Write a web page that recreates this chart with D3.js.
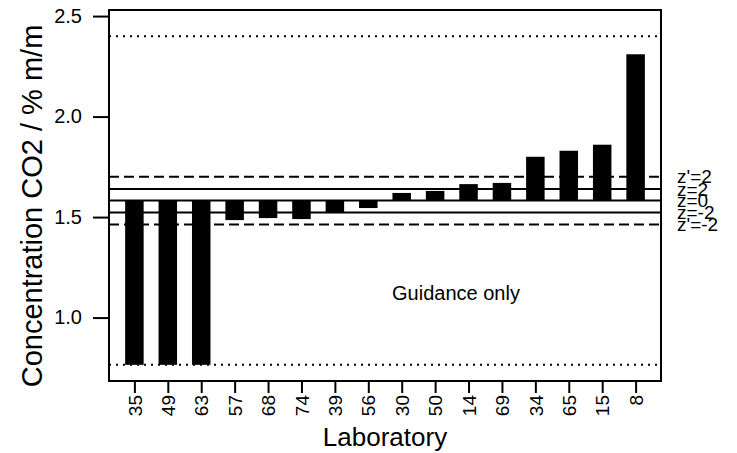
<!DOCTYPE html>
<html>
<head>
<meta charset="utf-8">
<script src="https://cdn.jsdelivr.net/npm/d3@7"></script>
<style>
  html, body { margin: 0; padding: 0; background: #fff; }
  svg { display: block; font-family: "Liberation Sans", Arial, sans-serif; }
</style>
</head>
<body>
<svg id="chart" width="737" height="453"></svg>
<script>
// Laboratory results, ordered by reported CO2 concentration
const labs = ["35", "49", "63", "57", "68", "74", "39", "56", "30", "50", "14", "69", "34", "65", "15", "8"];
const values = [0.765, 0.765, 0.765, 1.485, 1.495, 1.49, 1.52, 1.545, 1.62, 1.63, 1.664, 1.67, 1.80, 1.83, 1.86, 2.31];

// Assigned value and score limits
const assigned = 1.582;
const zLines = [
  { label: "z'=2",  value: 1.701, style: "dashed" },
  { label: "z=2",   value: 1.640, style: "solid" },
  { label: "z=0",   value: 1.582, style: "solid" },
  { label: "z=-2",  value: 1.523, style: "solid" },
  { label: "z'=-2", value: 1.463, style: "dashed" }
];
const guideLimits = [2.40, 0.765];
const yTicks = [1.0, 1.5, 2.0, 2.5];

const svg = d3.select("#chart");
const box = { left: 109, right: 661, top: 10, bottom: 381 };

const x = d3.scalePoint().domain(labs).range([box.left, box.right]).padding(0.76);
const y = d3.scaleLinear().domain([0.6845, 2.5302]).range([box.bottom, box.top]);
const barW = 18.5;

// Bars hang from the assigned value
svg.append("g").selectAll("rect")
  .data(labs.map((l, i) => ({ lab: l, v: values[i] })))
  .join("rect")
  .attr("x", d => x(d.lab) - barW / 2)
  .attr("width", barW)
  .attr("y", d => y(Math.max(d.v, assigned)))
  .attr("height", d => Math.abs(y(d.v) - y(assigned)))
  .attr("fill", "#000");

// Score lines
const dash = { dashed: "10,5", solid: null };
svg.append("g").selectAll("line")
  .data(zLines)
  .join("line")
  .attr("x1", box.left).attr("x2", box.right)
  .attr("y1", d => y(d.value)).attr("y2", d => y(d.value))
  .attr("stroke", "#000")
  .attr("stroke-width", 2)
  .attr("stroke-dasharray", d => dash[d.style]);

// Guidance limits
svg.append("g").selectAll("line")
  .data(guideLimits)
  .join("line")
  .attr("x1", box.left).attr("x2", box.right)
  .attr("y1", d => y(d)).attr("y2", d => y(d))
  .attr("stroke", "#000")
  .attr("stroke-width", 2)
  .attr("stroke-dasharray", "2,5");

// Plot frame
svg.append("rect")
  .attr("x", box.left).attr("y", box.top)
  .attr("width", box.right - box.left).attr("height", box.bottom - box.top)
  .attr("fill", "none").attr("stroke", "#000").attr("stroke-width", 2);

// Y axis
const yAxis = d3.axisLeft(y).tickValues(yTicks).tickFormat(d3.format(".1f")).tickSize(16).tickPadding(11);
const gy = svg.append("g").attr("transform", `translate(${box.left},0)`).call(yAxis);
gy.select(".domain").remove();
gy.selectAll(".tick line").attr("stroke", "#000").attr("stroke-width", 2);
gy.selectAll(".tick text").attr("font-size", 20).attr("fill", "#000")
  .attr("font-family", "Liberation Sans, Arial, sans-serif");

// X axis
const xAxis = d3.axisBottom(x).tickSize(12).tickPadding(3);
const gx = svg.append("g").attr("transform", `translate(0,${box.bottom})`).call(xAxis);
gx.select(".domain").remove();
gx.selectAll(".tick line").attr("stroke", "#000").attr("stroke-width", 2);
gx.selectAll(".tick text")
  .attr("font-size", 19).attr("fill", "#000")
  .attr("font-family", "Liberation Sans, Arial, sans-serif")
  .attr("transform", "rotate(-90)")
  .attr("text-anchor", "end")
  .attr("x", -14).attr("y", 0).attr("dy", "0.35em");

// Score labels in the right margin
svg.append("g").selectAll("text")
  .data(zLines)
  .join("text")
  .attr("x", 677)
  .attr("y", d => y(d.value))
  .attr("dy", "0.35em")
  .attr("font-size", 19)
  .text(d => d.label);

// Titles
svg.append("text")
  .attr("transform", "translate(32,206) rotate(-90)")
  .attr("text-anchor", "middle").attr("dy", "0.35em")
  .attr("font-size", 29)
  .text("Concentration CO2 / % m/m");

svg.append("text")
  .attr("x", 385).attr("y", 446)
  .attr("text-anchor", "middle")
  .attr("font-size", 26)
  .text("Laboratory");

svg.append("text")
  .attr("x", 456).attr("y", 293)
  .attr("text-anchor", "middle").attr("dy", "0.35em")
  .attr("font-size", 20)
  .text("Guidance only");
</script>
</body>
</html>
